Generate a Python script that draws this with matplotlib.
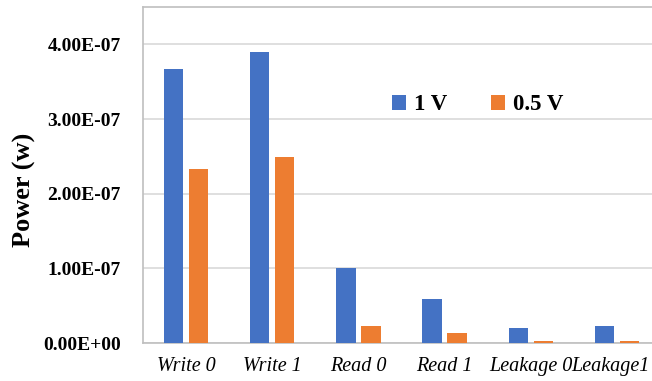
import numpy as np
import matplotlib.pyplot as plt
import matplotlib.transforms as mtransforms

categories = ["Write 0", "Write 1", "Read 0", "Read 1", "Leakage 0", "Leakage1"]
power_1v = [3.67e-07, 3.90e-07, 1.00e-07, 0.59e-07, 0.20e-07, 0.23e-07]
power_05v = [2.33e-07, 2.49e-07, 0.23e-07, 0.14e-07, 0.03e-07, 0.03e-07]
yticks = [0, 1e-07, 2e-07, 3e-07, 4e-07]
ytick_labels = ["0.00E+00", "1.00E-07", "2.00E-07", "3.00E-07", "4.00E-07"]

plt.rcParams['font.family'] = ['Liberation Serif', 'DejaVu Serif']

fig = plt.figure(figsize=(6.52, 3.81), dpi=100)
# plot area runs a little past the right edge, as in the reference
ax = fig.add_axes([143/652, 1 - 343/381, 517/652, 336/381])

x = np.arange(len(categories))
w = 0.225
ax.bar(x - 0.145, power_1v, w, color='#4472C4', label='1 V', zorder=3)
ax.bar(x + 0.145, power_05v, w, color='#ED7D31', label='0.5 V', zorder=3)

ax.set_xlim(-0.5, len(categories) - 0.5)
ax.set_ylim(0, 4.5e-07)
ax.set_yticks(yticks)
ax.set_yticklabels(ytick_labels, fontsize=14, fontweight='bold')
ax.set_xticks(x)
ax.set_xticklabels(categories, fontsize=14.5, style='italic')
ax.tick_params(axis='y', length=0, pad=16)
ax.tick_params(axis='x', length=0, pad=10)
ax.yaxis.grid(True, color='#D9D9D9', linewidth=1.2, zorder=0)
for s in ax.spines.values():
    s.set_color('#BFBFBF')
    s.set_linewidth(1.2)

# nudge last label left so it stays inside the picture
last = ax.get_xticklabels()[-1]
last.set_transform(last.get_transform() +
                   mtransforms.ScaledTranslation(-6/100, 0, fig.dpi_scale_trans))

fig.text(24/652, 1 - 190/381, "Power (w)", rotation=90, fontsize=19,
         fontweight='bold', ha='center', va='center')

fig.legend(loc='center left', bbox_to_anchor=(371/652, 1 - 105/381), ncol=2,
           frameon=False, prop={'size': 16.5, 'weight': 'bold'},
           handlelength=0.62, handleheight=0.62, handletextpad=0.35,
           columnspacing=1.9)

fig.savefig("out.png", dpi=100)
